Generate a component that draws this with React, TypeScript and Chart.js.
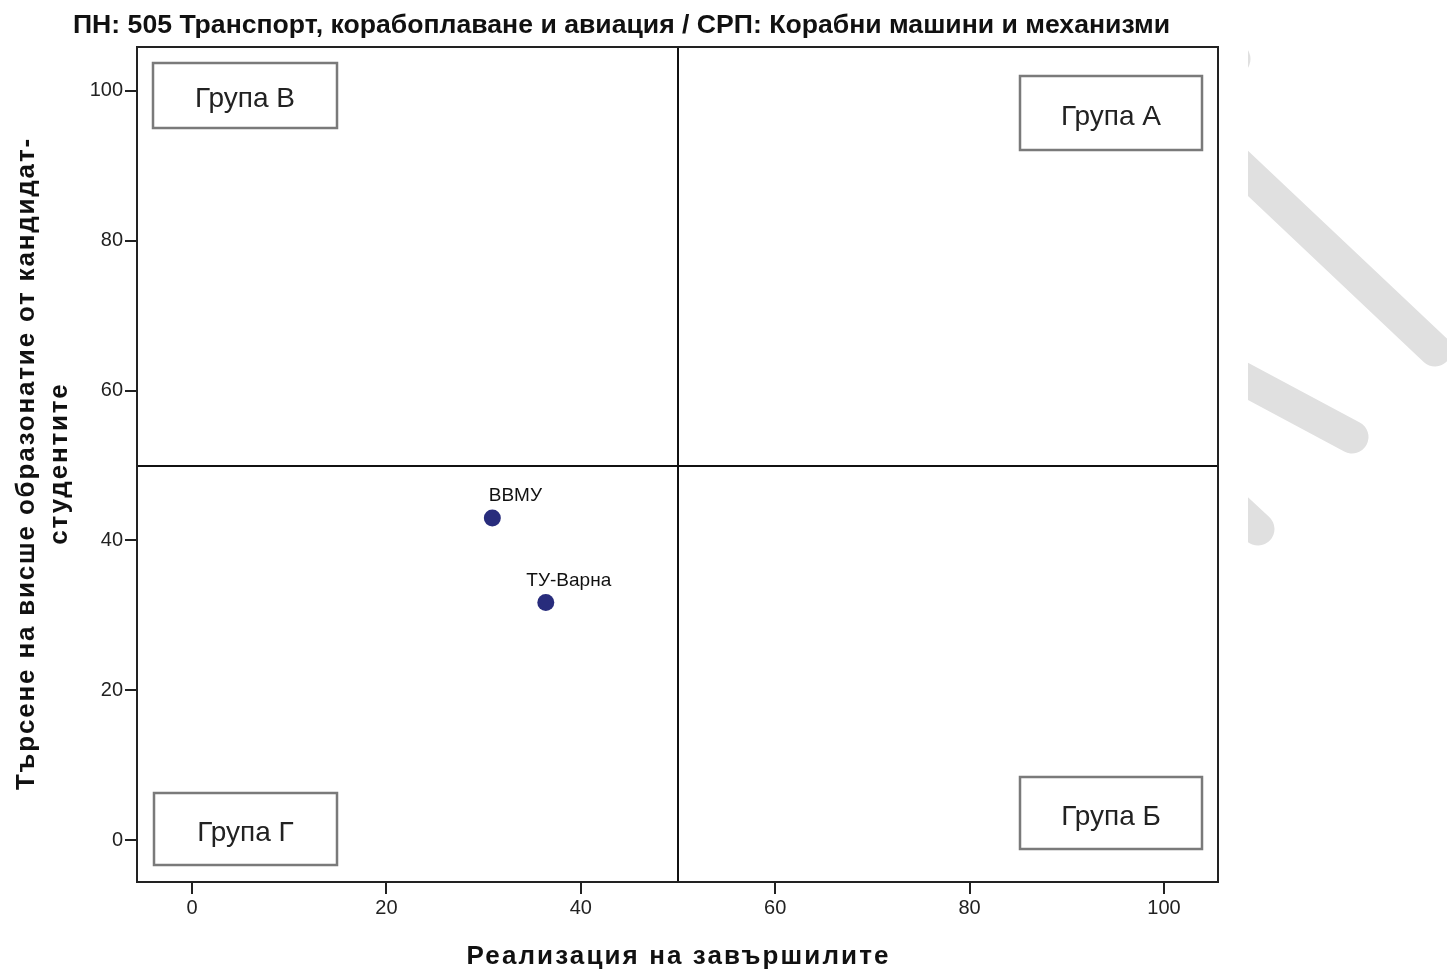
import React, { useEffect, useRef } from 'react';
import { Chart, registerables } from 'chart.js';

Chart.register(...registerables);

const TITLE = 'ПН: 505 Транспорт, корабоплаване и авиация / СРП: Корабни машини и механизми';
const X_LABEL = 'Реализация на завършилите';
const Y_LABEL_LINES = ['Търсене на висше образонатие от кандидат-', 'студентите'];

const INSTITUTIONS = ['ВВМУ', 'ТУ-Варна'];
const REALIZATION = [30.9, 36.4];
const DEMAND = [43.0, 31.7];

const TICKS = [0, 20, 40, 60, 80, 100];
const X_RANGE = [-5.66, 105.56];
const Y_RANGE = [-5.6, 105.87];
const THRESHOLD = 50;

const GROUPS = ['Група А', 'Група Б', 'Група В', 'Група Г'];

function drawFitted(ctx: CanvasRenderingContext2D, text: string, font: string, x: number, y: number, target: number, align: CanvasTextAlign, mode: 'scale' | 'space') {
  ctx.save();
  ctx.font = font;
  ctx.textAlign = align;
  const w = ctx.measureText(text).width;
  ctx.translate(x, y);
  if (mode === 'scale' || target < w || !('letterSpacing' in ctx)) {
    ctx.scale(target / w, 1);
    ctx.fillText(text, 0, 0);
  } else {
    const sp = (target - w) / text.length;
    (ctx as any).letterSpacing = sp + 'px';
    const shift = align === 'center' ? sp / 2 : 0;
    ctx.fillText(text, shift, 0);
  }
  ctx.restore();
}

const decorPlugin = {
  id: 'decor',
  beforeDraw(chart: any) {
    const ctx = chart.ctx as CanvasRenderingContext2D;
    ctx.save();
    ctx.beginPath();
    ctx.rect(1248, 0, 300, 969);
    ctx.clip();
    ctx.strokeStyle = '#e0e0e0';
    ctx.lineWidth = 33;
    ctx.lineCap = 'round';
    const strokes = [
      [1100, -70, 1234, 59],
      [1200, 128, 1435, 350],
      [1150, 329, 1352, 437],
      [1100, 382, 1258, 529],
    ];
    for (const s of strokes) {
      ctx.beginPath();
      ctx.moveTo(s[0], s[1]);
      ctx.lineTo(s[2], s[3]);
      ctx.stroke();
    }
    ctx.restore();
  },
  afterDatasetsDraw(chart: any) {
    const ctx = chart.ctx as CanvasRenderingContext2D;
    const { left, right, top, bottom } = chart.chartArea;
    const xs = chart.scales.x;
    const ys = chart.scales.y;

    ctx.save();
    ctx.strokeStyle = '#111';
    ctx.lineWidth = 2;
    const xm = Math.round(xs.getPixelForValue(THRESHOLD));
    const ym = Math.round(ys.getPixelForValue(THRESHOLD));
    ctx.beginPath();
    ctx.moveTo(xm, top);
    ctx.lineTo(xm, bottom);
    ctx.moveTo(left, ym);
    ctx.lineTo(right, ym);
    ctx.stroke();
    ctx.restore();

    ctx.save();
    ctx.fillStyle = '#111';
    ctx.font = '19px "Liberation Sans", Arial, sans-serif';
    ctx.textAlign = 'center';
    ctx.textBaseline = 'alphabetic';
    const meta = chart.getDatasetMeta(0);
    meta.data.forEach((el: any, i: number) => {
      ctx.fillText(INSTITUTIONS[i], el.x + 23, el.y - 17);
    });
    ctx.restore();

    const boxes = [
      { label: GROUPS[0], x: right - 16 - 182, y: top + 29, w: 182, h: 74 },
      { label: GROUPS[1], x: right - 16 - 182, y: bottom - 33 - 72, w: 182, h: 72 },
      { label: GROUPS[2], x: left + 16, y: top + 16, w: 184, h: 65 },
      { label: GROUPS[3], x: left + 17, y: bottom - 17 - 72, w: 183, h: 72 },
    ];
    ctx.save();
    for (const b of boxes) {
      ctx.fillStyle = '#ffffff';
      ctx.fillRect(b.x, b.y, b.w, b.h);
      ctx.strokeStyle = '#7a7a7a';
      ctx.lineWidth = 2.5;
      ctx.strokeRect(b.x, b.y, b.w, b.h);
      ctx.fillStyle = '#222';
      ctx.font = '28px "Liberation Sans", Arial, sans-serif';
      ctx.textAlign = 'center';
      ctx.textBaseline = 'middle';
      ctx.fillText(b.label, b.x + b.w / 2, b.y + b.h / 2 + 4);
    }
    ctx.restore();

    ctx.save();
    ctx.strokeStyle = '#222';
    ctx.lineWidth = 2;
    ctx.strokeRect(left, top, right - left, bottom - top);
    ctx.restore();

    ctx.save();
    ctx.fillStyle = '#111';
    ctx.textBaseline = 'alphabetic';
    drawFitted(ctx, TITLE, 'bold 25px "Liberation Sans Narrow", "Liberation Sans", Arial, sans-serif', 73, 33, 1097, 'left', 'scale');
    drawFitted(ctx, X_LABEL, 'bold 26px "Liberation Sans", Arial, sans-serif', (left + right) / 2, 964, 424, 'center', 'space');
    ctx.translate(0, (top + bottom) / 2);
    ctx.rotate(-Math.PI / 2);
    ctx.textBaseline = 'middle';
    const font = 'bold 26px "Liberation Sans", Arial, sans-serif';
    ctx.font = font;
    const w1 = ctx.measureText(Y_LABEL_LINES[0]).width;
    const sp = (653 - w1) / Y_LABEL_LINES[0].length;
    drawFitted(ctx, Y_LABEL_LINES[0], font, 0, 27, 653, 'center', 'space');
    const w2 = ctx.measureText(Y_LABEL_LINES[1]).width;
    drawFitted(ctx, Y_LABEL_LINES[1], font, 0, 60, w2 + sp * Y_LABEL_LINES[1].length, 'center', 'space');
    ctx.restore();
  },
};

export default function App() {
  const canvasRef = useRef<HTMLCanvasElement | null>(null);

  useEffect(() => {
    if (!canvasRef.current) return;
    const tickFont = { family: '"Liberation Sans", Arial, sans-serif', size: 20 };
    const setTicks = (scale: any) => {
      scale.ticks = TICKS.map((v) => ({ value: v }));
    };
    const chart = new Chart(canvasRef.current, {
      type: 'scatter',
      data: {
        datasets: [
          {
            data: REALIZATION.map((x, i) => ({ x, y: DEMAND[i] })),
            backgroundColor: '#282c7c',
            borderWidth: 0,
            pointRadius: 8.5,
          },
        ],
      },
      options: {
        animation: false,
        responsive: false,
        layout: { padding: { top: 47, right: 229, left: 0, bottom: 0 } },
        plugins: { legend: { display: false }, tooltip: { enabled: false }, title: { display: false } },
        scales: {
          x: {
            type: 'linear',
            min: X_RANGE[0],
            max: X_RANGE[1],
            afterBuildTicks: setTicks,
            afterFit: (s: any) => { s.height = 87; },
            ticks: { font: tickFont, color: '#222', padding: 2, maxRotation: 0 },
            grid: { drawOnChartArea: false, drawTicks: true, tickLength: 12, color: '#222', lineWidth: 2 },
            border: { display: true, color: '#222', width: 2 },
          },
          y: {
            type: 'linear',
            min: Y_RANGE[0],
            max: Y_RANGE[1],
            afterBuildTicks: setTicks,
            afterFit: (s: any) => { s.width = 137; },
            ticks: { font: tickFont, color: '#222', padding: 2 },
            grid: { drawOnChartArea: false, drawTicks: true, tickLength: 12, color: '#222', lineWidth: 2 },
            border: { display: true, color: '#222', width: 2 },
          },
        },
      },
      plugins: [decorPlugin],
    } as any);
    return () => chart.destroy();
  }, []);

  return (
    <div style={{ position: 'absolute', left: 0, top: 0, width: 1447, height: 969, background: '#fff' }}>
      <canvas ref={canvasRef} width={1447} height={969} />
    </div>
  );
}
